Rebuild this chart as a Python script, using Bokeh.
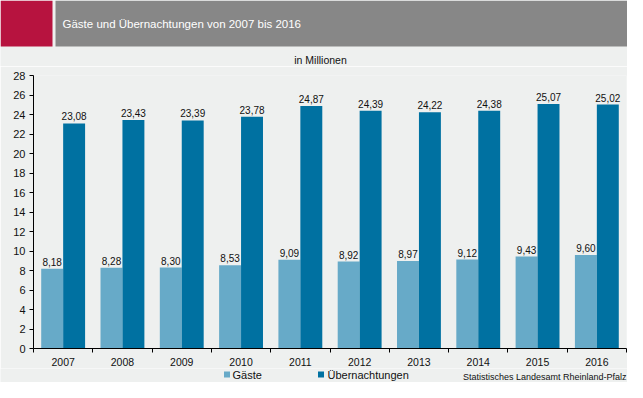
from bokeh.plotting import figure
from bokeh.layouts import column
from bokeh.models import ColumnDataSource, Range1d, FixedTicker, Label
from bokeh.transform import dodge
from bokeh.core.properties import value
from bokeh.embed import file_html
from bokeh.resources import INLINE

years = ["2007", "2008", "2009", "2010", "2011", "2012", "2013", "2014", "2015", "2016"]
gaeste = [8.18, 8.28, 8.30, 8.53, 9.09, 8.92, 8.97, 9.12, 9.43, 9.60]
uebernachtungen = [23.08, 23.43, 23.39, 23.78, 24.87, 24.39, 24.22, 24.38, 25.07, 25.02]
series_names = ["Gäste", "Übernachtungen"]
y_ticks = list(range(0, 29, 2))
title_text = "Gäste und Übernachtungen von 2007 bis 2016"
unit_text = "in Millionen"
source_text = "Statistisches Landesamt Rheinland-Pfalz"

FONT = "Liberation Sans"
BG = "#EEF0EF"
LIGHT = "#67AAC8"
DARK = "#0071A1"
RED = "#B7133F"
GRAY = "#878787"
TXT = "#111111"
W = 627


def fmt(v):
    return f"{v:.2f}".replace(".", ",")


def blank_fig(h):
    f = figure(width=W, height=h, output_backend="svg", toolbar_location=None,
               x_range=Range1d(0, W), y_range=Range1d(h, 0),
               x_axis_location=None, y_axis_location=None,
               min_border=0, min_border_left=0, min_border_right=0,
               min_border_top=0, min_border_bottom=0, frame_align=False)
    f.background_fill_color = BG
    f.border_fill_color = BG
    f.outline_line_color = None
    f.grid.visible = False
    return f


# ---------- header ----------
HH = 66
hdr = blank_fig(HH)
hdr.quad(left=[0, 55], right=[52, W], top=[0, 0], bottom=[46, 46],
         fill_color=[RED, GRAY], line_color=None)
hdr.add_layout(Label(x=62, y=23, text=title_text, text_font=FONT,
                     text_font_size="11.5px", text_color="white",
                     text_baseline="middle", text_align="left"))
hdr.add_layout(Label(x=320, y=59, text=unit_text, text_font=FONT,
                     text_font_size="10.5px", text_color=TXT,
                     text_baseline="middle", text_align="center"))

# ---------- main chart ----------
centers = [i + 0.5 for i in range(len(years))]
src = ColumnDataSource(dict(
    x=centers, g=gaeste, u=uebernachtungen,
    gl=[fmt(v) for v in gaeste], ul=[fmt(v) for v in uebernachtungen],
))

MH = 302
p = figure(width=W, height=MH, output_backend="svg", toolbar_location=None,
           x_range=Range1d(0, len(years)), y_range=Range1d(0, 28),
           min_border_left=33, min_border_right=1, min_border_top=9,
           min_border_bottom=17, frame_align=False)
p.background_fill_color = BG
p.border_fill_color = BG
p.outline_line_color = None
p.grid.visible = False

bw = 0.37
p.vbar(x=dodge("x", -bw / 2, range=p.x_range), top="g", width=bw, source=src,
       fill_color=LIGHT, line_color=None)
p.vbar(x=dodge("x", bw / 2, range=p.x_range), top="u", width=bw, source=src,
       fill_color=DARK, line_color=None)

for col, lab, off in (("g", "gl", -bw / 2), ("u", "ul", bw / 2)):
    p.text(x=dodge("x", off, range=p.x_range), y=col, text=lab, source=src,
           text_font=value(FONT), text_font_size="10px", text_color=TXT,
           text_align="center", text_baseline="bottom", y_offset=-3)

xa = p.xaxis[0]
xa.ticker = FixedTicker(ticks=centers, minor_ticks=list(range(len(years) + 1)))
xa.major_label_overrides = {c: y for c, y in zip(centers, years)}
xa.major_tick_line_color = None
xa.major_tick_out = 0
xa.major_tick_in = 0
xa.minor_tick_out = 4
xa.minor_tick_in = 0
xa.minor_tick_line_color = "black"
xa.axis_line_color = "black"
xa.major_label_standoff = 5
xa.major_label_text_font = FONT
xa.major_label_text_font_size = "10.5px"
xa.major_label_text_color = TXT

ya = p.yaxis[0]
ya.ticker = FixedTicker(ticks=y_ticks)
ya.minor_tick_line_color = None
ya.major_tick_out = 4
ya.major_tick_in = 0
ya.major_tick_line_color = "black"
ya.axis_line_color = "black"
ya.major_label_standoff = 4
ya.major_label_text_font = FONT
ya.major_label_text_font_size = "11px"
ya.major_label_text_color = TXT

# ---------- legend + source ----------
BH = 14
bot = blank_fig(BH)
bot.rect(x=[226.5, 320.5], y=[6, 6], width=6, height=6,
         fill_color=[LIGHT, DARK], line_color=None)
bot.text(x=[232, 327], y=[6.5, 6.5], text=series_names, text_font=value(FONT),
         text_font_size="11px", text_color=TXT, text_baseline="middle",
         text_align="left")
bot.add_layout(Label(x=626, y=8, text=source_text, text_font=FONT,
                     text_font_size="9px", text_color=TXT,
                     text_baseline="middle", text_align="right"))

layout = column(hdr, p, bot, spacing=0)
open("out.html", "w").write(file_html(layout, INLINE))
